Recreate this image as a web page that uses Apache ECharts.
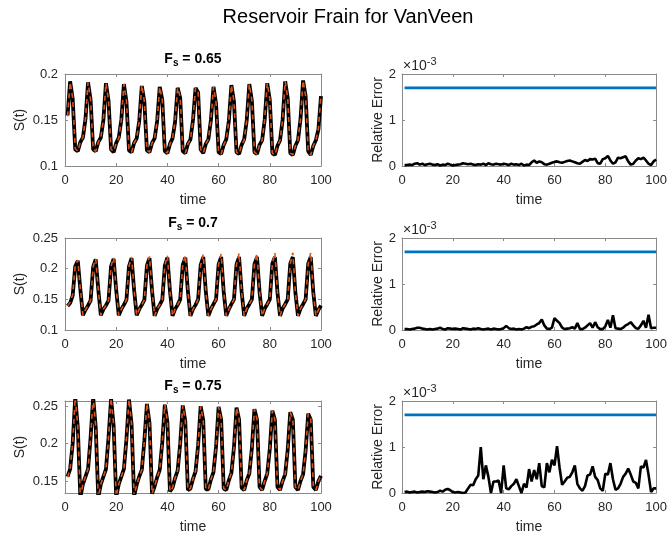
<!DOCTYPE html>
<html><head><meta charset="utf-8">
<script src="https://cdn.jsdelivr.net/npm/echarts@6/dist/echarts.min.js"></script>
<style>html,body{margin:0;padding:0;background:#fff}#c{width:670px;height:537px}</style>
</head><body><div id="c"></div>
<script>
const mainTitle = 'Reservoir Frain for VanVeen';
const fsLabels = ['0.65', '0.7', '0.75'];
const xTicks = [0, 20, 40, 60, 80, 100];
const sTicks065 = [0.1, 0.15, 0.2];
const sTicks07 = [0.1, 0.15, 0.2, 0.25];
const sTicks075 = [0.15, 0.2, 0.25];
const errTicks = [0, 1, 2];
const errExponent = '-3';
const tolerance = 1.7; // ×10^-3

// S(t), Fs = 0.65 (black: data, orange: fit), t = 1..100
const s065 = [0.155,
 0.192,0.173,0.118,0.116,0.126,0.131,0.151,
 0.191,0.172,0.118,0.116,0.126,0.131,0.150,
 0.190,0.171,0.118,0.115,0.125,0.131,0.150,
 0.189,0.170,0.117,0.115,0.125,0.130,0.149,
 0.187,0.170,0.117,0.115,0.125,0.130,0.149,
 0.186,0.172,0.116,0.114,0.124,0.130,0.148,
 0.185,0.174,0.116,0.114,0.124,0.129,0.150,
 0.185,0.180,0.118,0.114,0.124,0.129,0.150,
 0.186,0.168,0.115,0.113,0.123,0.129,0.149,
 0.188,0.170,0.115,0.113,0.123,0.129,0.150,
 0.189,0.171,0.115,0.113,0.123,0.128,0.150,
 0.190,0.172,0.114,0.112,0.122,0.128,0.150,
 0.192,0.174,0.114,0.112,0.122,0.128,0.151,
 0.193,0.176,0.116,0.112,0.122,0.128,0.140,
 0.176];
const fit065 = [0.154,
 0.191,0.174,0.119,0.116,0.126,0.131,0.151,
 0.191,0.172,0.118,0.116,0.126,0.131,0.151,
 0.190,0.171,0.118,0.116,0.125,0.130,0.150,
 0.189,0.171,0.117,0.115,0.125,0.130,0.149,
 0.188,0.170,0.117,0.115,0.125,0.130,0.149,
 0.186,0.172,0.116,0.114,0.124,0.130,0.149,
 0.185,0.175,0.116,0.114,0.124,0.129,0.150,
 0.185,0.181,0.118,0.114,0.124,0.129,0.150,
 0.186,0.169,0.115,0.113,0.123,0.129,0.149,
 0.188,0.170,0.115,0.113,0.123,0.128,0.150,
 0.189,0.171,0.115,0.113,0.123,0.128,0.150,
 0.190,0.173,0.114,0.112,0.122,0.128,0.150,
 0.192,0.174,0.114,0.112,0.122,0.128,0.151,
 0.193,0.176,0.116,0.112,0.122,0.128,0.141,
 0.177];

// S(t), Fs = 0.7
const s07 = [0.139,0.144,0.156,0.204,
 0.213,0.166,0.124,0.133,0.140,0.148,0.203,
 0.215,0.166,0.124,0.134,0.140,0.148,0.204,
 0.216,0.165,0.124,0.134,0.141,0.149,0.204,
 0.217,0.165,0.124,0.134,0.141,0.149,0.205,
 0.217,0.164,0.123,0.134,0.141,0.149,0.205,
 0.218,0.164,0.123,0.134,0.141,0.150,0.206,
 0.218,0.163,0.123,0.134,0.141,0.150,0.206,
 0.219,0.163,0.123,0.134,0.142,0.150,0.207,
 0.219,0.162,0.123,0.134,0.142,0.150,0.207,
 0.219,0.162,0.123,0.135,0.142,0.150,0.207,
 0.219,0.162,0.123,0.135,0.142,0.150,0.208,
 0.219,0.161,0.123,0.135,0.142,0.150,0.208,
 0.219,0.161,0.123,0.135,0.142,0.150,0.208,
 0.219,0.161,0.123,0.133,0.140];
const fit07 = [0.139,0.145,0.158,0.205,
 0.214,0.167,0.124,0.133,0.140,0.148,0.203,
 0.216,0.166,0.124,0.134,0.140,0.148,0.204,
 0.218,0.166,0.124,0.134,0.141,0.149,0.204,
 0.219,0.165,0.124,0.134,0.141,0.149,0.205,
 0.220,0.165,0.123,0.134,0.141,0.149,0.205,
 0.221,0.164,0.123,0.134,0.141,0.150,0.206,
 0.222,0.164,0.123,0.134,0.141,0.150,0.206,
 0.223,0.163,0.123,0.134,0.142,0.150,0.207,
 0.224,0.163,0.123,0.134,0.142,0.150,0.207,
 0.225,0.162,0.123,0.135,0.142,0.150,0.207,
 0.225,0.162,0.123,0.135,0.142,0.150,0.208,
 0.226,0.162,0.123,0.135,0.142,0.150,0.208,
 0.226,0.161,0.123,0.135,0.142,0.150,0.208,
 0.226,0.161,0.123,0.133,0.141];

// S(t), Fs = 0.75
const s075 = [0.156,0.166,0.200,
 0.262,0.222,0.128,0.146,0.156,0.166,0.208,
 0.262,0.222,0.128,0.146,0.156,0.166,0.208,
 0.260,0.224,0.129,0.146,0.156,0.166,0.206,
 0.259,0.226,0.130,0.145,0.156,0.165,0.204,
 0.253,0.228,0.133,0.143,0.155,0.165,0.202,
 0.252,0.229,0.136,0.141,0.154,0.164,0.200,
 0.251,0.230,0.138,0.140,0.153,0.163,0.198,
 0.250,0.231,0.139,0.139,0.152,0.162,0.196,
 0.249,0.232,0.140,0.138,0.151,0.161,0.195,
 0.248,0.232,0.141,0.138,0.151,0.160,0.194,
 0.246,0.232,0.142,0.138,0.150,0.160,0.193,
 0.244,0.232,0.142,0.138,0.150,0.159,0.192,
 0.242,0.232,0.142,0.138,0.150,0.159,0.191,
 0.240,0.232,0.142,0.138,0.150,0.157];
const fit075 = [0.155,0.166,0.201,
 0.262,0.223,0.128,0.146,0.156,0.166,0.208,
 0.262,0.223,0.128,0.146,0.156,0.166,0.207,
 0.261,0.225,0.129,0.146,0.156,0.166,0.206,
 0.259,0.227,0.130,0.145,0.156,0.165,0.204,
 0.254,0.228,0.133,0.143,0.155,0.165,0.202,
 0.252,0.230,0.136,0.141,0.154,0.164,0.200,
 0.251,0.231,0.138,0.140,0.153,0.163,0.198,
 0.250,0.231,0.139,0.139,0.152,0.162,0.196,
 0.249,0.232,0.140,0.138,0.151,0.161,0.195,
 0.248,0.233,0.141,0.138,0.151,0.160,0.194,
 0.246,0.233,0.142,0.138,0.150,0.160,0.193,
 0.244,0.232,0.142,0.138,0.150,0.159,0.192,
 0.242,0.232,0.142,0.138,0.150,0.159,0.191,
 0.240,0.233,0.142,0.138,0.150,0.158];

// Relative error (×10^-3), t = 1..100
const err065 = [0.02,0.02,0.03,0.02,0.05,0.06,0.03,0.05,0.02,0.04,
 0.05,0.03,0.02,0.04,0.01,0.03,0.02,0.05,0.03,0.01,
 0.02,0.03,0.04,0.06,0.05,0.04,0.05,0.03,0.02,0.04,
 0.03,0.05,0.02,0.06,0.04,0.03,0.05,0.04,0.03,0.05,
 0.04,0.02,0.05,0.03,0.04,0.02,0.05,0.01,0.03,0.02,
 0.08,0.12,0.07,0.10,0.08,0.04,0.03,0.05,0.07,0.09,
 0.10,0.08,0.07,0.09,0.11,0.12,0.10,0.08,0.06,0.05,
 0.09,0.13,0.11,0.15,0.14,0.16,0.06,0.05,0.15,0.17,
 0.22,0.12,0.05,0.08,0.18,0.17,0.19,0.21,0.10,0.03,
 0.05,0.12,0.17,0.15,0.18,0.12,0.05,0.02,0.10,0.14];
const err07 = [0.02,0.02,0.01,0.02,0.03,0.05,0.05,0.03,0.02,0.01,
 0.02,0.01,0.02,0.03,0.05,0.02,0.01,0.04,0.03,0.02,
 0.03,0.02,0.01,0.04,0.03,0.02,0.01,0.03,0.02,0.04,
 0.02,0.01,0.02,0.03,0.01,0.03,0.02,0.01,0.02,0.04,
 0.09,0.04,0.02,0.03,0.01,0.02,0.01,0.03,0.06,0.04,
 0.07,0.08,0.12,0.15,0.23,0.10,0.03,0.02,0.05,0.26,
 0.20,0.15,0.05,0.02,0.03,0.04,0.06,0.03,0.15,0.02,
 0.02,0.05,0.10,0.15,0.05,0.17,0.06,0.02,0.02,0.08,
 0.22,0.05,0.32,0.04,0.03,0.02,0.05,0.10,0.13,0.17,
 0.10,0.04,0.03,0.10,0.20,0.05,0.33,0.04,0.05,0.05];
const err075 = [0.02,0.03,0.01,0.02,0.03,0.01,0.02,0.03,0.02,0.04,
 0.03,0.02,0.01,0.02,0.05,0.03,0.07,0.09,0.06,0.02,
 0.01,0.02,0.01,0.00,0.01,0.10,0.18,0.17,0.30,0.38,
 1.00,0.30,0.60,0.35,0.00,0.25,0.25,0.27,0.00,0.60,
 0.10,0.08,0.15,0.20,0.30,0.15,0.00,0.20,0.12,0.52,
 0.25,0.50,0.30,0.65,0.15,0.12,0.65,0.45,0.72,0.60,
 1.02,0.55,0.18,0.25,0.33,0.35,0.45,0.60,0.20,0.10,
 0.05,0.15,0.38,0.40,0.58,0.35,0.28,0.10,0.05,0.42,
 0.40,0.65,0.30,0.07,0.10,0.20,0.35,0.42,0.53,0.40,
 0.25,0.22,0.10,0.58,0.55,0.72,0.40,0.02,0.10,0.10];

const FONT = '"Liberation Sans", Arial, Helvetica, sans-serif';
const TXT = '#262626';
const AX = '#8a8a8a';
const BLACK = '#000000';
const ORANGE = '#D95319';
const BLUE = '#0072BD';

const leftX = 65, rightX = 402, W = 256, H = 92;
const tops = [74, 238, 401];

const rows = [
  { s: s065, fit: fit065, err: err065, ymin: 0.1, ymax: 0.2, ticks: sTicks065 },
  { s: s07, fit: fit07, err: err07, ymin: 0.1, ymax: 0.25, ticks: sTicks07 },
  { s: s075, fit: fit075, err: err075, ymin: 0.134, ymax: 0.257, ticks: sTicks075 }
];

const toPairs = arr => arr.map((v, i) => [i + 1, v]);

const grid = [], xAxis = [], yAxis = [], series = [], titles = [];

titles.push({
  text: mainTitle, left: 348, top: 5, textAlign: 'center', padding: 0,
  textStyle: { fontFamily: FONT, fontSize: 20, fontWeight: 'normal', color: '#000', lineHeight: 24 }
});

function addAxes(gi, ymin, ymax, yTicks, yName, yNameGap, yLabelMargin) {
  const xi = xAxis.length, yi = yAxis.length;
  const common = { gridIndex: gi, type: 'value', min: 0, max: 100, interval: 20, splitLine: { show: false },
    axisLine: { show: true, onZero: false, lineStyle: { color: AX, width: 1 } },
    axisTick: { show: true, inside: true, length: 3, lineStyle: { color: AX } } };
  xAxis.push(Object.assign({}, common, {
    position: 'bottom', name: 'time', nameLocation: 'middle', nameGap: 27,
    nameTextStyle: { fontFamily: FONT, fontSize: 14, color: TXT },
    axisLabel: { fontFamily: FONT, fontSize: 13, color: TXT, margin: 8 }
  }));
  xAxis.push(Object.assign({}, common, { position: 'top', axisLabel: { show: false } }));
  const ycommon = { gridIndex: gi, type: 'value', min: ymin, max: ymax, splitLine: { show: false },
    axisLine: { show: true, onZero: false, lineStyle: { color: AX, width: 1 } },
    axisTick: { show: true, inside: true, length: 3, lineStyle: { color: AX }, customValues: yTicks } };
  yAxis.push(Object.assign({}, ycommon, {
    position: 'left', name: yName, nameLocation: 'middle', nameGap: yNameGap,
    nameTextStyle: { fontFamily: FONT, fontSize: 14, color: TXT },
    axisLabel: { fontFamily: FONT, fontSize: 13, color: TXT, margin: yLabelMargin, customValues: yTicks }
  }));
  yAxis.push(Object.assign({}, ycommon, { position: 'right', axisLabel: { show: false, customValues: yTicks } }));
  return [xi, yi];
}

rows.forEach((r, k) => {
  const top = tops[k];
  // left panel
  grid.push({ left: leftX, top: top, width: W, height: H, containLabel: false });
  let gi = grid.length - 1;
  let [xi, yi] = addAxes(gi, r.ymin, r.ymax, r.ticks, 'S(t)', 38, 7);
  series.push({ type: 'line', xAxisIndex: xi, yAxisIndex: yi, data: toPairs(r.s), showSymbol: false,
    lineStyle: { color: BLACK, width: 3.8 }, z: 2, clip: true });
  series.push({ type: 'line', xAxisIndex: xi, yAxisIndex: yi, data: toPairs(r.fit), showSymbol: false,
    lineStyle: { color: ORANGE, width: 1.6, type: [5, 4] }, z: 3, clip: true });
  titles.push({
    text: '{F|F}{s|s}{r| = ' + fsLabels[k] + '}', left: leftX + W / 2, top: top - 22, textAlign: 'center', padding: 0,
    textStyle: { rich: {
      F: { fontFamily: FONT, fontSize: 14, fontWeight: 'bold', color: '#000', lineHeight: 16, verticalAlign: 'top' },
      s: { fontFamily: FONT, fontSize: 10, fontWeight: 'bold', color: '#000', lineHeight: 12, verticalAlign: 'bottom' },
      r: { fontFamily: FONT, fontSize: 14, fontWeight: 'bold', color: '#000', lineHeight: 16, verticalAlign: 'top' }
    } }
  });
  // right panel
  grid.push({ left: rightX, top: top, width: W, height: H, containLabel: false });
  gi = grid.length - 1;
  [xi, yi] = addAxes(gi, 0, 2, errTicks, 'Relative Error', 17, 6);
  series.push({ type: 'line', xAxisIndex: xi, yAxisIndex: yi, data: [[1, tolerance], [100, tolerance]], showSymbol: false,
    lineStyle: { color: BLUE, width: 2.8 }, z: 2 });
  series.push({ type: 'line', xAxisIndex: xi, yAxisIndex: yi, data: toPairs(r.err), showSymbol: false,
    lineStyle: { color: BLACK, width: 2.6 }, z: 3 });
  titles.push({
    text: '{a|×10}{b|' + errExponent + '}', left: rightX + 1, top: top - 18, padding: 0,
    textStyle: { fontWeight: 'normal', rich: {
      a: { fontFamily: FONT, fontSize: 14, fontWeight: 'normal', color: TXT, lineHeight: 17, verticalAlign: 'bottom' },
      b: { fontFamily: FONT, fontSize: 11, fontWeight: 'normal', color: TXT, lineHeight: 13, verticalAlign: 'top' }
    } }
  });
});

const chart = echarts.init(document.getElementById('c'), null, { renderer: 'canvas' });
chart.setOption({
  animation: false,
  backgroundColor: '#ffffff',
  title: titles,
  grid: grid,
  xAxis: xAxis,
  yAxis: yAxis,
  series: series
});
</script>
</body></html>
